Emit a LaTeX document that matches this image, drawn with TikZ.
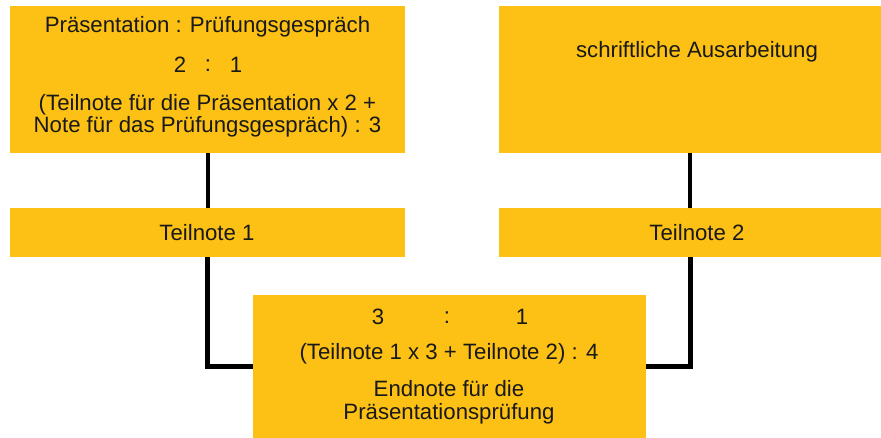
\documentclass[tikz,border=0pt]{standalone}
\usepackage{fontspec}
\setmainfont{Liberation Sans}
\definecolor{boxyellow}{RGB}{252,193,20}
\begin{document}
\begin{tikzpicture}[x=1pt,y=-1pt,
  box/.style={fill=boxyellow,draw=none,inner sep=0pt,anchor=center},
  txt/.style={inner sep=0pt,anchor=center,font=\fontsize{22.2}{24}\selectfont,text=black!90},
  connup/.style={line width=4pt,draw=black},
  conndown/.style={line width=5pt,draw=black}]
\useasboundingbox (0,0) rectangle (881,438);
% boxes
\node[box,minimum width=395pt,minimum height=147pt] (b1) at (207.5,79.5) {};
\node[box,minimum width=382pt,minimum height=147pt] (b2) at (690,79.5) {};
\node[box,minimum width=395pt,minimum height=49pt] (t1) at (207.5,232.5) {};
\node[box,minimum width=382pt,minimum height=49pt] (t2) at (690,232.5) {};
\node[box,minimum width=393pt,minimum height=143pt] (e) at (449.5,366.5) {};
% connectors
\draw[connup] (b1.south) -- (t1.north);
\draw[connup] (b2.south) -- (t2.north);
\draw[conndown] (t1.south) |- (e.west);
\draw[conndown] (t2.south) |- (e.east);
% texts box 1
\node[txt] (b1l1) at (207.5,27) {Präsentation : Prüfungsgespräch};
\node[txt] (b1a) at (180,65) {2};
\node[txt] (b1c) at (208,66) {:};
\node[txt] (b1b) at (236,65) {1};
\node[txt] (b1l3) at (207.5,105) {(Teilnote für die Präsentation x 2 +};
\node[txt] (b1l4) at (207.5,127) {Note für das Prüfungsgespräch) : 3};
% box 2
\node[txt] (b2l1) at (697,52) {schriftliche Ausarbeitung};
% Teilnoten
\node[txt] (t1l) at (207,233) {Teilnote 1};
\node[txt] (t2l) at (697,233) {Teilnote 2};
% end box
\node[txt] (ea) at (378,317) {3};
\node[txt] (ec) at (447,318) {:};
\node[txt] (eb) at (522,317) {1};
\node[txt] (el2) at (449,354) {(Teilnote 1 x 3 + Teilnote 2) : 4};
\node[txt] (el3) at (449,389) {Endnote für die};
\node[txt] (el4) at (449,414) {Präsentationsprüfung};
\end{tikzpicture}
\end{document}
